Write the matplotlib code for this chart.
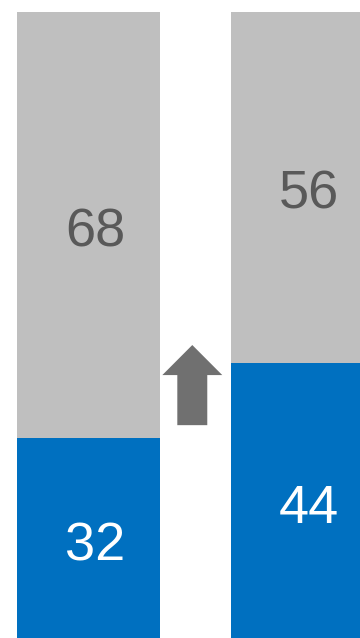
import matplotlib
matplotlib.use('agg')
import matplotlib.pyplot as plt
from matplotlib.patches import FancyArrow

# Data
categories = ['Before', 'After']
share_blue = [32, 44]
share_gray = [68, 56]

BLUE = '#0070C0'
GRAY = '#BFBFBF'
ARROW = '#707070'
TEXT_DARK = '#595959'

plt.rcParams['font.family'] = ['Liberation Sans', 'DejaVu Sans']

fig = plt.figure(figsize=(3.6, 6.38), dpi=100)
ax = fig.add_axes([0, 0, 1, 1])

x = list(range(len(categories)))
width = 0.668
ax.bar(x, share_blue, width=width, color=BLUE)
ax.bar(x, share_gray, width=width, bottom=share_blue, color=GRAY)

# labels sit a little below the segment centre
drop = 1.2
for xi, b, g in zip(x, share_blue, share_gray):
    ax.text(xi + 0.03, b / 2 - drop * 1.2, str(b), ha='center', va='center',
            fontsize=39, color='white')
    ax.text(xi + 0.03, b + g / 2 - drop, str(g), ha='center', va='center',
            fontsize=39, color=TEXT_DARK)

# up arrow between the bars
ax.add_patch(FancyArrow(0.485, 34, 0, 12.8, width=0.14, head_width=0.28,
                        head_length=4.8, length_includes_head=True,
                        color=ARROW, lw=0))

ax.set_xlim(-0.4136, 1.2687)
ax.set_ylim(0, 100 * 638 / 626)
ax.axis('off')

fig.savefig('out.png', dpi=100)
